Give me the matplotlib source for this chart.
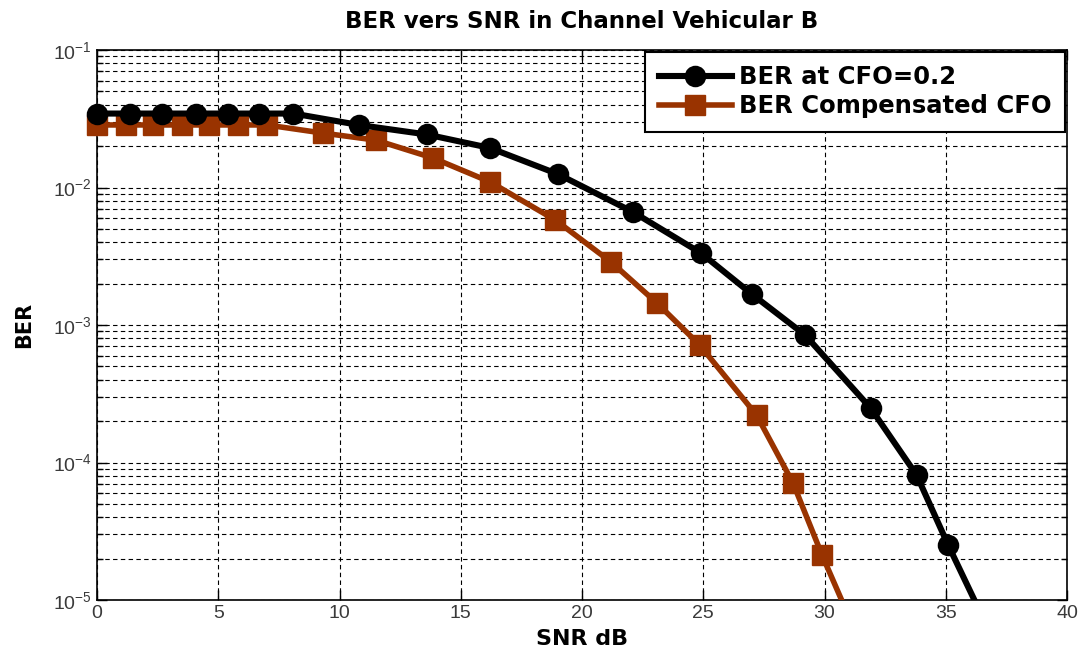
import matplotlib
matplotlib.use("Agg")
import matplotlib.pyplot as plt
from matplotlib.ticker import LogLocator, FixedLocator, FuncFormatter
from matplotlib.patches import Rectangle
from matplotlib import font_manager

# Data
snr_cfo = [0.0, 1.35, 2.7, 4.1, 5.4, 6.7, 8.1, 10.8, 13.6, 16.2, 19.0, 22.1, 24.9, 27.0, 29.2, 31.9, 33.8, 35.1, 36.6]
ber_cfo = [0.0345, 0.0345, 0.0345, 0.0345, 0.0345, 0.0345, 0.0345, 0.0285, 0.0243, 0.0194, 0.01253,
           0.00664, 0.00334, 0.00168, 0.000845, 0.000249, 8.1e-5, 2.51e-5, 7e-6]

snr_comp = [0.0, 1.2, 2.3, 3.5, 4.6, 5.8, 7.0, 9.3, 11.5, 13.85, 16.2, 18.9, 21.2, 23.1, 24.85, 27.2, 28.7, 29.9, 31.2]
ber_comp = [0.0285, 0.0285, 0.0285, 0.0285, 0.0285, 0.0285, 0.0285, 0.0249, 0.0221, 0.0164, 0.011,
            0.0058, 0.00287, 0.00144, 0.000716, 0.000221, 7.1e-5, 2.12e-5, 6.3e-6]

labels = ["BER at CFO=0.2", "BER Compensated CFO"]
title = "BER vers SNR in Channel Vehicular B"
xlabel = "SNR dB"
ylabel = "BER"
xticks = [0, 5, 10, 15, 20, 25, 30, 35, 40]

names = {f.name for f in font_manager.fontManager.ttflist}
tick_family = ['Liberation Sans Narrow', 'Liberation Sans'] if 'Liberation Sans Narrow' in names else ['Liberation Sans']
plt.rcParams['font.family'] = ['DejaVu Sans']

fig = plt.figure(figsize=(10.85, 6.6), dpi=100)
ax = fig.add_axes([97 / 1085, 60 / 660, (1067 - 97) / 1085, (600 - 50) / 660])

red = "#993300"
l1, = ax.plot(snr_cfo, ber_cfo, color="black", lw=4.4, marker="o", ms=14,
              mfc="black", mec="black", mew=1.5, label=labels[0], zorder=4)
l2, = ax.plot(snr_comp, ber_comp, color=red, lw=4.0, marker="s", ms=15,
              mfc=red, mec=red, label=labels[1], zorder=3)
for ln in (l1, l2):
    ln.set_clip_path(Rectangle((-0.04, 0.0), 1.08, 1.05, transform=ax.transAxes))

ax.set_yscale("log")
ax.set_xlim(0, 40)
ax.set_ylim(1e-5, 1e-1)
ax.xaxis.set_major_locator(FixedLocator(xticks))
ax.yaxis.set_major_locator(LogLocator(base=10, numticks=10))
ax.yaxis.set_minor_locator(LogLocator(base=10, subs=range(2, 10), numticks=20))
ax.yaxis.set_minor_formatter(FuncFormatter(lambda v, p: ""))

ax.grid(True, which="major", axis="both", color="black", linestyle=(0, (4, 3)), linewidth=0.8)
ax.grid(True, which="minor", axis="y", color="black", linestyle=(0, (4, 3)), linewidth=0.8)

ax.tick_params(which="both", direction="in", top=True, right=True, colors="black",
               labelcolor="#3a3a3a", labelsize=14)
ax.tick_params(which="major", length=7, width=1)
ax.tick_params(which="minor", length=4, width=1)
for lab in ax.get_xticklabels() + ax.get_yticklabels():
    lab.set_family(tick_family)
for s in ax.spines.values():
    s.set_linewidth(1.2)
    s.set_color("black")

ax.set_title(title, fontsize=16.5, fontweight="bold", pad=16)
ax.set_xlabel(xlabel, fontsize=16, fontweight="bold", labelpad=5)
ax.set_ylabel(ylabel, fontsize=15, fontweight="bold", labelpad=14)

leg = ax.legend(loc="upper right", bbox_to_anchor=((1065 - 97) / 970, (600 - 52) / 550),
                prop={"weight": "bold", "size": 17.5, "family": "DejaVu Sans"},
                fancybox=False, framealpha=1, edgecolor="black", borderaxespad=0.0,
                handlelength=3.0, handletextpad=0.3, borderpad=0.55, labelspacing=0.2)
leg.get_frame().set_linewidth(1.5)

fig.savefig("out.png", dpi=100)
